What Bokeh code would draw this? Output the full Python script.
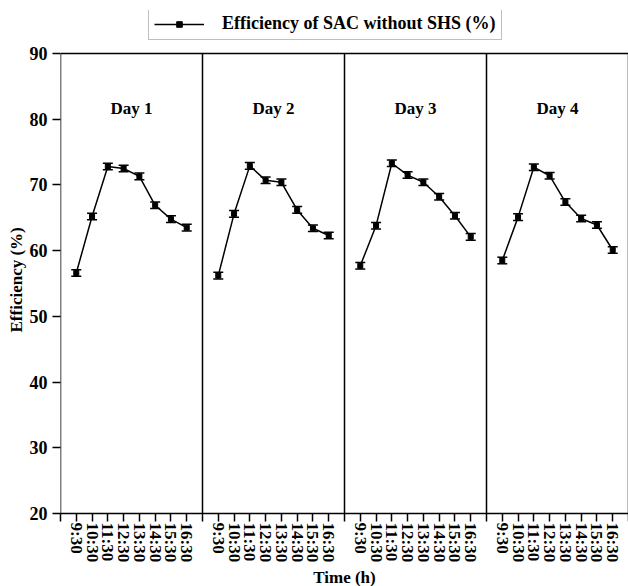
from bokeh.plotting import figure
from bokeh.models import (ColumnDataSource, Whisker, TeeHead, FixedTicker, Legend, LegendItem, Span, Range1d, Title)
from bokeh.embed import file_html
from bokeh.resources import INLINE
from bokeh.core.properties import value

times = ["9:30", "10:30", "11:30", "12:30", "13:30", "14:30", "15:30", "16:30"]
days = ["Day 1", "Day 2", "Day 3", "Day 4"]
day1 = [56.6, 65.2, 72.8, 72.5, 71.3, 66.9, 64.8, 63.5]
day2 = [56.2, 65.6, 72.9, 70.7, 70.4, 66.2, 63.4, 62.3]
day3 = [57.7, 63.8, 73.3, 71.5, 70.4, 68.2, 65.3, 62.1]
day4 = [58.5, 65.1, 72.7, 71.4, 67.4, 64.9, 63.9, 60.1]
y_ticks = [20, 30, 40, 50, 60, 70, 80, 90]
err = 0.5
series = [day1, day2, day3, day4]

FONT = "Liberation Serif"
slots = len(times) + 1  # slots per panel
n_x = slots * len(days)

plot_h = 460            # pixels between y=20 and y=90
extra_top = 43          # room above the box for the legend
y_lo, y_hi = min(y_ticks), max(y_ticks)
y_top = y_hi + extra_top * (y_hi - y_lo) / plot_h

p = figure(frame_width=568, frame_height=plot_h + extra_top, output_backend="svg", toolbar_location=None,
           x_range=Range1d(0, n_x), y_range=Range1d(y_lo, y_top),
           min_border_left=60, min_border_right=0, min_border_top=10, min_border_bottom=72)
p.grid.visible = False
p.outline_line_color = None

# box: top edge and panel dividers
p.add_layout(Span(location=y_hi, dimension="width", line_color="black", line_width=1.5))
div_x = [d * slots for d in range(len(days) + 1)]
p.segment(x0=div_x, x1=div_x, y0=[y_lo] * len(div_x), y1=[y_hi] * len(div_x),
          line_color="black", line_width=1.5)

labels = {}
line_r = None
scat_r = None
for d, vals in enumerate(series):
    x = [d * slots + i + 1 for i in range(len(times))]
    src = ColumnDataSource(dict(x=x, y=vals, lo=[v - err for v in vals], hi=[v + err for v in vals]))
    line_r = p.line("x", "y", source=src, line_color="black", line_width=1.5)
    scat_r = p.scatter("x", "y", source=src, marker="square", size=5, color="black")
    w = Whisker(base="x", lower="lo", upper="hi", source=src, line_color="black", line_width=1.5,
                upper_head=TeeHead(size=10, line_width=1.5, line_color="black"),
                lower_head=TeeHead(size=10, line_width=1.5, line_color="black"))
    p.add_layout(w)
    for xi, t in zip(x, times):
        labels[xi] = t
    p.text(x=[d * slots + slots / 2], y=[81.6], text=[days[d]], text_align="center",
           text_baseline="middle", text_font=value(FONT), text_font_style="bold",
           text_font_size="17px", text_color="black")

for xd in div_x:
    labels[xd] = ""

p.xaxis.ticker = FixedTicker(ticks=sorted(labels.keys()))
p.xaxis.major_label_overrides = labels
p.xaxis.major_label_orientation = "vertical"
p.xaxis.minor_tick_line_color = None
p.yaxis.ticker = FixedTicker(ticks=y_ticks)
p.yaxis.minor_tick_line_color = None
p.yaxis.axis_line_color = None
for ax in (p.xaxis, p.yaxis):
    ax.major_tick_in = 0
    ax.major_tick_out = 8
    ax.major_tick_line_width = 1.5
    ax.axis_line_width = 1.5
    ax.major_label_text_font = FONT
    ax.major_label_text_font_style = "bold"
    ax.axis_label_text_font = FONT
    ax.axis_label_text_font_style = "bold"
    ax.axis_label_text_font_size = "17px"
    ax.major_label_text_color = "black"
    ax.axis_label_text_color = "black"
p.xaxis.major_label_text_font_size = "17px"
p.yaxis.major_label_text_font_size = "18px"
p.xaxis.major_label_standoff = 1
p.yaxis.major_label_standoff = 5
p.xaxis.axis_label = "Time (h)"
p.xaxis.axis_label_standoff = 3

ytitle = Title(text="Efficiency (%)", align="left", offset=181, standoff=2,
               text_font=FONT, text_font_style="bold", text_font_size="17px", text_color="black")
p.add_layout(ytitle, "left")

legend = Legend(items=[LegendItem(label="Efficiency of SAC without SHS (%)", renderers=[line_r, scat_r])],
                location=(88, plot_h + 13), orientation="horizontal",
                border_line_color="gray", border_line_width=1, glyph_width=50, glyph_height=14,
                padding=5, margin=0, label_standoff=18, spacing=0)
legend.label_text_font = FONT
legend.label_text_font_style = "bold"
legend.label_text_font_size = "18px"
legend.label_text_color = "black"
p.add_layout(legend, "center")

open("out.html", "w").write(file_html(p, INLINE))
